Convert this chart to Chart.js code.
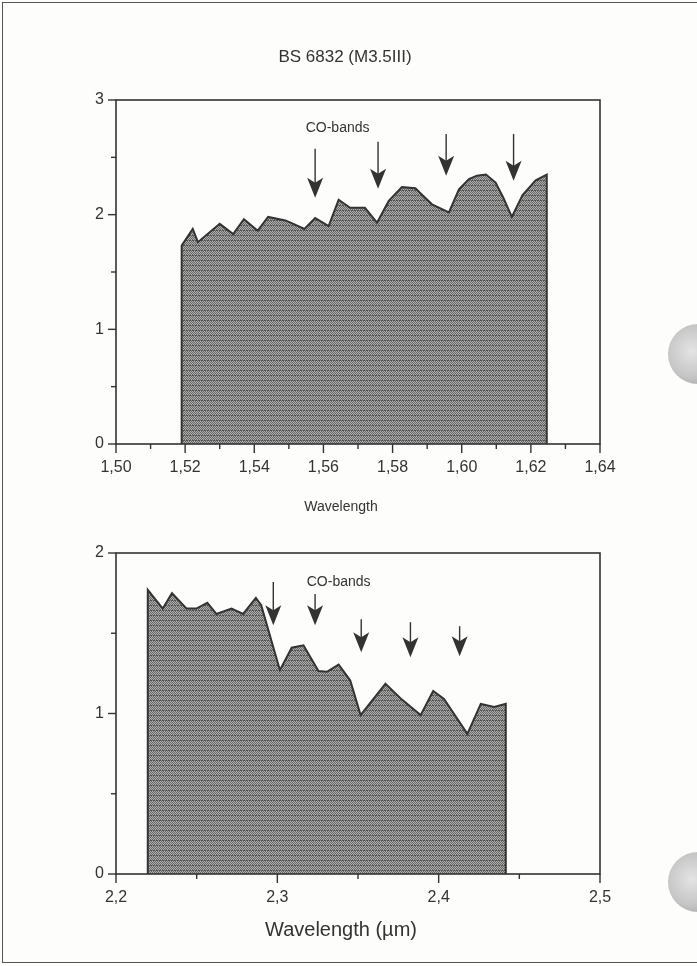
<!DOCTYPE html>
<html>
<head>
<meta charset="utf-8">
<script src="https://cdn.jsdelivr.net/npm/chart.js@4/dist/chart.umd.min.js"></script>
<style>
  body { margin: 0; background: #fdfdfc; }
  #page { position: relative; width: 697px; height: 966px; overflow: hidden; }
  #frame { position: absolute; left: 2px; top: 2px; width: 700px; height: 961px; border: 1px solid #555; box-sizing: border-box; }
  canvas { position: absolute; left: 0; }
  .hole { position: absolute; width: 60px; height: 60px; border-radius: 50%;
          background: radial-gradient(circle at 40% 45%, #e4e4e4 0%, #c4c4c4 55%, #8a8a8a 100%); }
</style>
</head>
<body>
<div id="page">
  <div id="frame"></div>
  <canvas id="top" style="top:0px"></canvas>
  <canvas id="bot" style="top:500px"></canvas>
  <div class="hole" style="left:668px; top:324px"></div>
  <div class="hole" style="left:668px; top:852px"></div>
</div>
<script>
// H-band spectrum (top panel)
var topWl = [1.519, 1.519, 1.5222, 1.5237, 1.530, 1.5339, 1.537, 1.541, 1.544, 1.549, 1.5513, 1.5545,
  1.5576, 1.5615, 1.5644, 1.5677, 1.572, 1.5755, 1.5789, 1.5827, 1.5866, 1.5888, 1.5914, 1.5963,
  1.5992, 1.6021, 1.6044, 1.607, 1.6098, 1.612, 1.6145, 1.6176, 1.6214, 1.6246, 1.6246];
var topFlux = [0, 1.73, 1.876, 1.76, 1.92, 1.83, 1.96, 1.86, 1.98, 1.95, 1.92, 1.875,
  1.97, 1.90, 2.13, 2.06, 2.06, 1.93, 2.12, 2.24, 2.23, 2.165, 2.09, 2.02,
  2.22, 2.31, 2.34, 2.35, 2.28, 2.15, 1.98, 2.17, 2.30, 2.35, 0];
// CO band arrows, top panel (x, arrow start, arrow tip)
var topArrowX = [1.5576, 1.5758, 1.5955, 1.615];
var topArrowFrom = [2.574, 2.635, 2.704, 2.704];
var topArrowTo = [2.148, 2.226, 2.339, 2.296];

// K-band spectrum (bottom panel)
var botWl = [2.2197, 2.2197, 2.229, 2.2347, 2.2436, 2.2498, 2.2566, 2.2622, 2.2716, 2.2788, 2.2867,
  2.290, 2.3016, 2.3089, 2.3162, 2.3255, 2.3307, 2.338, 2.3452, 2.3516, 2.367, 2.3774, 2.3888,
  2.3966, 2.4033, 2.4178, 2.4261, 2.4344, 2.4416, 2.4416];
var botFlux = [0, 1.77, 1.654, 1.75, 1.654, 1.654, 1.69, 1.62, 1.654, 1.62, 1.72,
  1.675, 1.27, 1.41, 1.425, 1.265, 1.26, 1.305, 1.206, 0.99, 1.185, 1.085, 0.99,
  1.14, 1.09, 0.873, 1.06, 1.04, 1.06, 0];
var botArrowX = [2.2975, 2.3234, 2.3520, 2.3825, 2.4130];
var botArrowFrom = [1.819, 1.744, 1.5875, 1.569, 1.544];
var botArrowTo = [1.55, 1.55, 1.381, 1.35, 1.356];

var ink = '#333';
var font = '"Liberation Sans", Arial, sans-serif';

// stippled grey fill like the scanned halftone
function makePattern() {
  var c = document.createElement('canvas');
  c.width = 6; c.height = 5;
  var g = c.getContext('2d');
  for (var y = 0; y < 5; y++) {
    for (var x = 0; x < 6; x++) {
      if (y == 0) g.fillStyle = (x % 3 == 2) ? '#8a8a8a' : '#505050';
      else g.fillStyle = ((x + y) % 2 == 0) ? '#666' : '#b0b0b0';
      g.fillRect(x, y, 1, 1);
    }
  }
  return g.createPattern(c, 'repeat');
}

function toPoints(xs, ys) {
  var pts = [];
  for (var i = 0; i < xs.length; i++) pts.push({ x: xs[i], y: ys[i] });
  return pts;
}

// frame, tick marks, arrows and texts
function decoPlugin(cfg) {
  return {
    id: 'deco',
    afterDraw: function (chart) {
      var c = chart.ctx, a = chart.chartArea;
      var xs = chart.scales.x, ys = chart.scales.y;
      c.save();
      c.strokeStyle = ink;
      c.lineWidth = 1.6;
      c.strokeRect(a.left, a.top, a.right - a.left, a.bottom - a.top);
      c.lineWidth = 1.4;
      xs.ticks.forEach(function (t) {
        var px = xs.getPixelForValue(t.value);
        var len = t.label === '' ? 5 : 9;
        c.beginPath(); c.moveTo(px, a.bottom); c.lineTo(px, a.bottom + len); c.stroke();
      });
      ys.ticks.forEach(function (t) {
        var py = ys.getPixelForValue(t.value);
        var len = t.label === '' ? 5 : 8;
        c.beginPath(); c.moveTo(a.left, py); c.lineTo(a.left - len, py); c.stroke();
      });
      // arrows
      c.fillStyle = ink;
      for (var i = 0; i < cfg.ax.length; i++) {
        var x = xs.getPixelForValue(cfg.ax[i]);
        var y0 = ys.getPixelForValue(cfg.af[i]);
        var y1 = ys.getPixelForValue(cfg.at[i]);
        c.lineWidth = 1.4;
        c.beginPath(); c.moveTo(x, y0); c.lineTo(x, y1 - 12); c.stroke();
        c.beginPath();
        c.moveTo(x, y1);
        c.lineTo(x - 8, y1 - 20);
        c.lineTo(x, y1 - 15);
        c.lineTo(x + 8, y1 - 20);
        c.closePath(); c.fill();
      }
      c.textAlign = 'center';
      c.textBaseline = 'middle';
      c.font = '14px ' + font;
      c.fillText('CO-bands', xs.getPixelForValue(cfg.lx), ys.getPixelForValue(cfg.ly));
      cfg.texts.forEach(function (t) {
        c.font = t.size + 'px ' + font;
        c.fillText(t.text, t.x, t.y);
      });
      c.restore();
    }
  };
}

function makeChart(id, h, pts, xr, yr, xfmt, padTop, padBottom, deco) {
  var el = document.getElementById(id);
  el.width = 697; el.height = h;
  el.style.width = '697px'; el.style.height = h + 'px';
  return new Chart(el, {
    type: 'line',
    data: {
      datasets: [{
        data: pts,
        fill: 'origin',
        backgroundColor: makePattern(),
        borderColor: '#333',
        borderWidth: 2,
        pointRadius: 0,
        tension: 0
      }]
    },
    options: {
      responsive: false,
      animation: false,
      layout: { padding: { top: padTop, right: 97, bottom: padBottom, left: 0 } },
      plugins: { legend: { display: false }, tooltip: { enabled: false } },
      scales: {
        x: {
          type: 'linear', min: xr[0], max: xr[1],
          grid: { display: false, drawTicks: false },
          border: { display: false },
          afterFit: function (s) { s.height = 40; },
          ticks: {
            stepSize: xr[2], autoSkip: false, maxRotation: 0, padding: 14,
            color: ink, font: { family: font, size: 16 },
            callback: xfmt
          }
        },
        y: {
          min: yr[0], max: yr[1],
          grid: { display: false, drawTicks: false },
          border: { display: false },
          afterFit: function (s) { s.width = 116; },
          ticks: {
            stepSize: 0.5, autoSkip: false, padding: 12,
            color: ink, font: { family: font, size: 16 },
            callback: function (v) { return v % 1 == 0 ? String(v) : ''; }
          }
        }
      }
    },
    plugins: [deco]
  });
}

makeChart('top', 530, toPoints(topWl, topFlux), [1.50, 1.64, 0.01], [0, 3],
  function (v) {
    var n = Math.round(v * 100);
    if (n % 2 != 0) return '';
    return (n / 100).toFixed(2).replace('.', ',');
  }, 100, 46,
  decoPlugin({
    ax: topArrowX, af: topArrowFrom, at: topArrowTo, lx: 1.5641, ly: 2.757,
    texts: [
      { text: 'BS 6832 (M3.5III)', x: 345, y: 57, size: 17 },
      { text: 'Wavelength', x: 341, y: 507, size: 14 }
    ]
  }));

makeChart('bot', 466, toPoints(botWl, botFlux), [2.2, 2.5, 0.05], [0, 2],
  function (v) {
    var n = Math.round(v * 100);
    if (n % 10 != 0) return '';
    return (n / 100).toFixed(1).replace('.', ',');
  }, 53, 52,
  decoPlugin({
    ax: botArrowX, af: botArrowFrom, at: botArrowTo, lx: 2.338, ly: 1.82,
    texts: [
      { text: 'Wavelength (\u00b5m)', x: 341, y: 430, size: 20 }
    ]
  }));
</script>
</body>
</html>
